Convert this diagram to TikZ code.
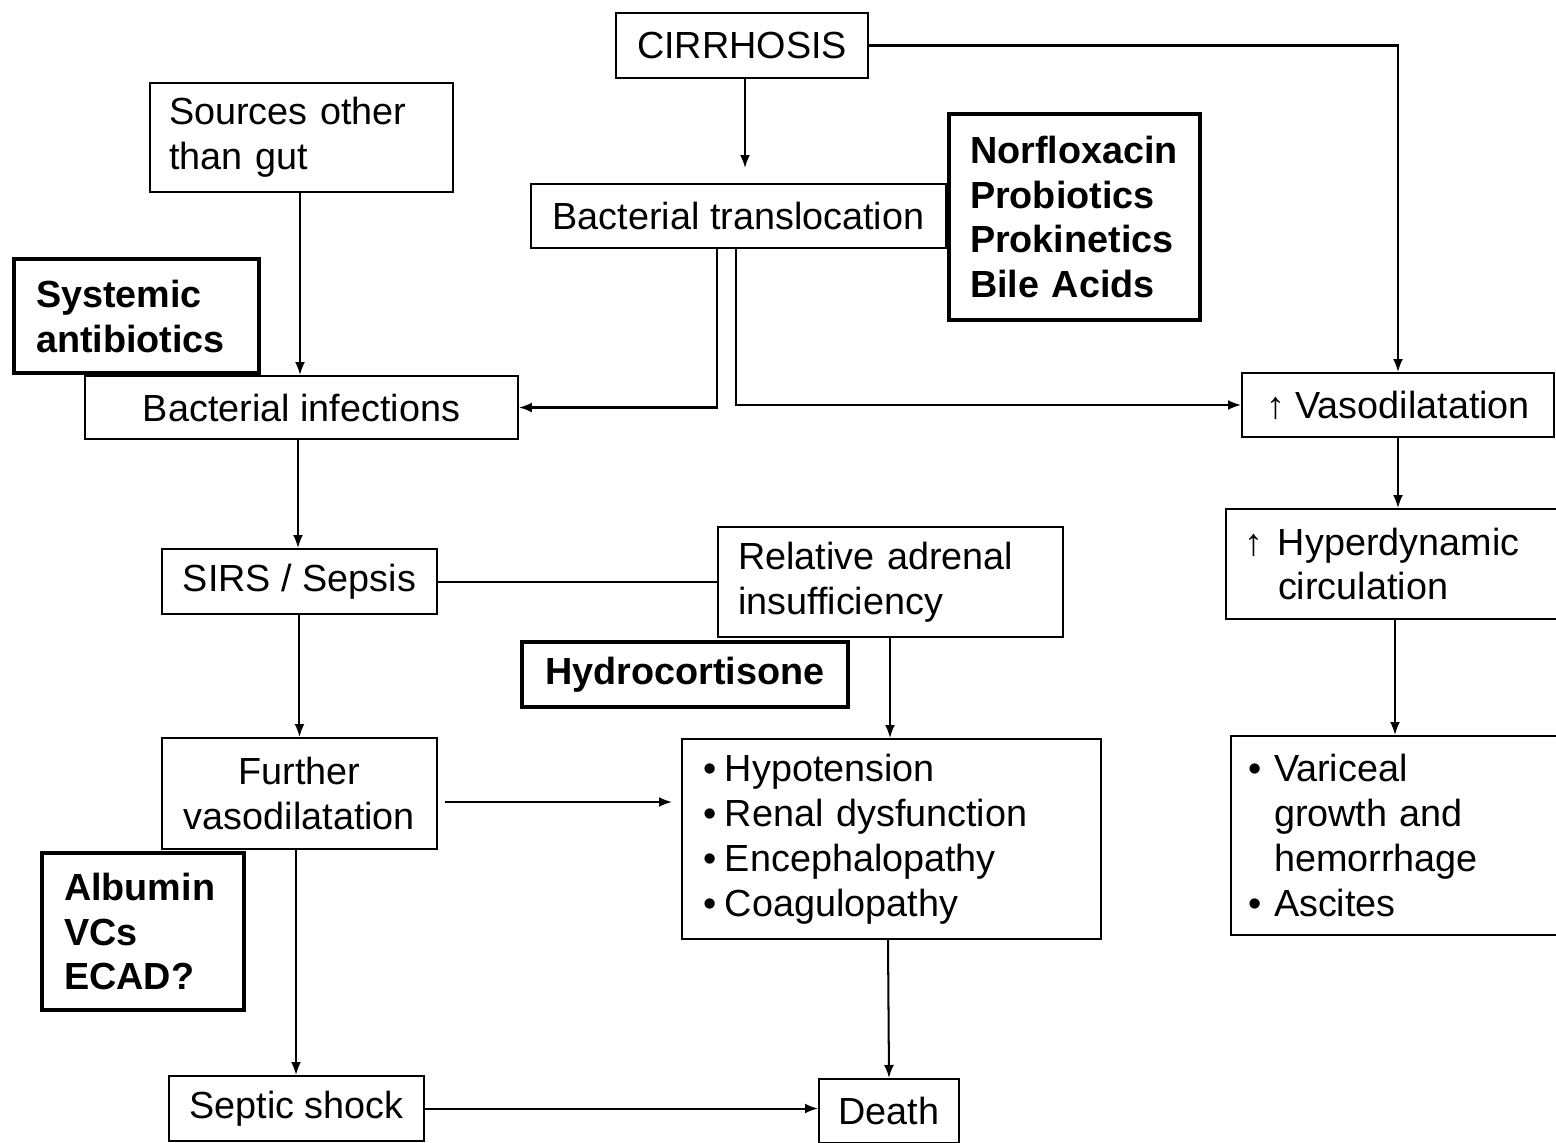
\documentclass[tikz,border=0pt]{standalone}
\usepackage{fontspec}
\setmainfont{Liberation Sans}
\usetikzlibrary{arrows.meta}
\newcommand\mybul[1]{\makebox[#1][l]{•}}
\begin{document}
\begin{tikzpicture}[x=0.02cm,y=-0.02cm,
  box/.style={draw, line width=1.15pt, inner sep=0pt, anchor=north west,
    font=\fontsize{21.5pt}{25.6pt}\selectfont, align=center},
  tbox/.style={box, line width=2.3pt, font=\bfseries\fontsize{21.5pt}{25.6pt}\selectfont},
  ln/.style={line width=1.15pt},
  arr/.style={line width=1.15pt, -{Latex[length=0.26cm,width=0.2cm]}}]
\useasboundingbox (0,0) rectangle (1556,1143);

\node[box, minimum width=5.04cm, minimum height=1.30cm] (cirr) at (615,12) {CIRRHOSIS};
\node[box, align=left, text width=5.30cm, inner xsep=0.38cm, minimum height=2.18cm] (src) at (149,82) {Sources other\\than gut};
\node[box, minimum width=8.30cm, minimum height=1.28cm] (bt) at (530,183) {Bacterial translocation};
\node[tbox, align=left, text width=4.18cm, inner xsep=0.42cm, minimum height=4.12cm] (nor) at (947,112) {Norfloxacin\\Probiotics\\Prokinetics\\Bile Acids};
\node[tbox, align=left, text width=4.02cm, inner xsep=0.44cm, minimum height=2.28cm] (sys) at (12,257) {Systemic\\antibiotics};
\node[box, minimum width=8.66cm, minimum height=1.26cm] (binf) at (84,375) {Bacterial infections};
\node[box, minimum width=6.24cm, minimum height=1.28cm] (vaso) at (1241,372) {↑ Vasodilatation};
\node[box, minimum width=5.50cm, minimum height=1.30cm] (sirs) at (161,548) {SIRS / Sepsis};
\node[box, align=left, text width=6.10cm, inner xsep=0.40cm, minimum height=2.20cm] (adr) at (717,526) {Relative adrenal\\insufficiency};
\node[tbox, minimum width=6.52cm, minimum height=1.30cm] (hydro) at (520,640) {Hydrocortisone};
\node[box, align=left, text width=6.08cm, inner xsep=0.36cm, minimum height=2.20cm] (hyper) at (1225,508) {\makebox[0.68cm][l]{↑}Hyperdynamic\\\hspace*{0.68cm}circulation};
\node[box, minimum width=5.50cm, minimum height=2.22cm] (fvaso) at (161,737) {Further\\vasodilatation};
\node[tbox, align=left, text width=3.16cm, inner xsep=0.44cm, minimum height=3.14cm] (alb) at (40,851) {Albumin\\VCs\\ECAD?};
\node[box, align=left, text width=7.54cm, inner xsep=0.42cm, minimum height=4.00cm] (hyp) at (681,738) {\mybul{0.44cm}Hypotension\\\mybul{0.44cm}Renal dysfunction\\\mybul{0.44cm}Encephalopathy\\\mybul{0.44cm}Coagulopathy};
\node[box, align=left, text width=6.12cm, inner xsep=0.34cm, minimum height=3.98cm] (var) at (1230,735) {\mybul{0.52cm}Variceal\\\hspace*{0.52cm}growth and\\\hspace*{0.52cm}hemorrhage\\\mybul{0.52cm}Ascites};
\node[box, minimum width=5.10cm, minimum height=1.30cm] (sep) at (168,1075) {Septic shock};
\node[box, minimum width=2.80cm, minimum height=1.28cm] (death) at (818,1078) {Death};

% connectors
\draw[arr, shorten >=0.3cm] (745,0 |- cirr.south) -- (745,0 |- bt.north);
\draw[arr] (cirr.east) -| (vaso.north);
\draw[arr] (300,0 |- src.south) -- (300,0 |- binf.north);
\draw[arr] (717,0 |- bt.south) |- (binf.east);
\draw[arr] (736,0 |- bt.south) |- (vaso.west);
\draw[arr] (298,0 |- binf.south) -- (298,0 |- sirs.north);
\draw[ln] (sirs.east) -- (sirs.east -| adr.west);
\draw[arr] (sirs.south) -- (fvaso.north);
\draw[arr] (890,0 |- adr.south) -- (890,0 |- hyp.north);
\draw[arr, shorten <=0.14cm, shorten >=0.18cm] (fvaso.east |- 0,802) -- (hyp.west |- 0,802);
\draw[arr] (296,0 |- fvaso.south) -- (296,0 |- sep.north);
\draw[arr] (888,0 |- hyp.south) -- (death.north);
\draw[arr] (sep.east) -- (sep.east -| death.west);
\draw[arr] (vaso.south) -- (vaso.south |- hyper.north);
\draw[arr] (1395,0 |- hyper.south) -- (1395,0 |- var.north);
\end{tikzpicture}
\end{document}
